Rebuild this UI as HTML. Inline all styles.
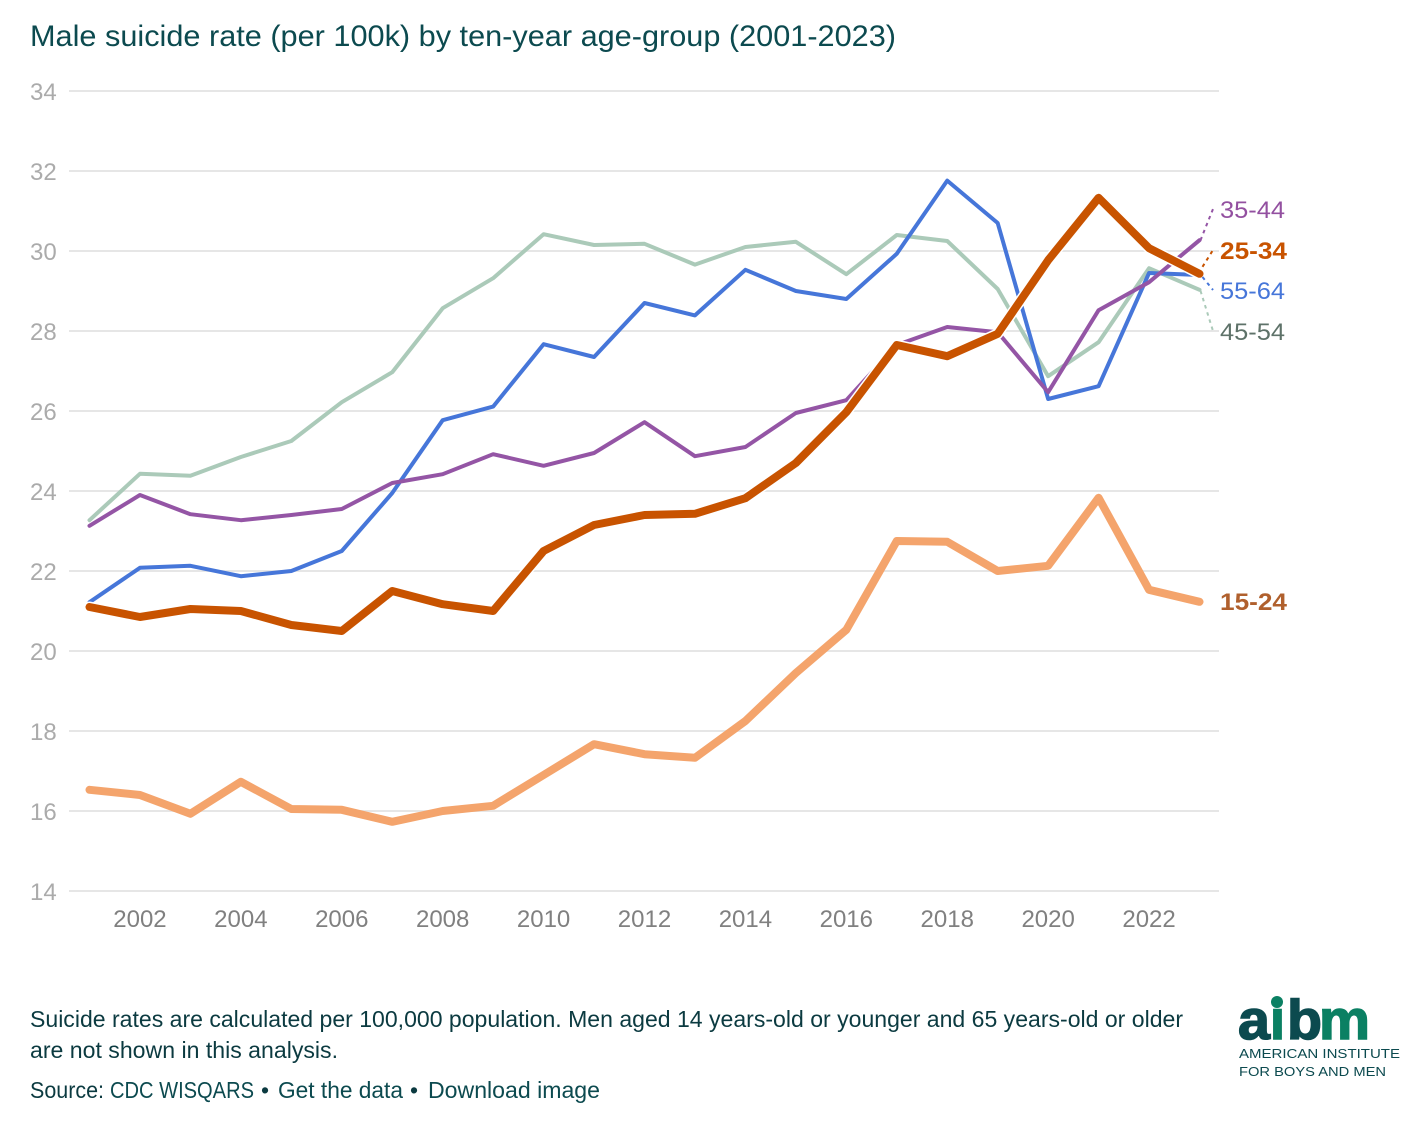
<!DOCTYPE html>
<html lang="en">
<head>
<meta charset="utf-8">
<title>Male suicide rate by ten-year age-group</title>
<style>
html,body{margin:0;padding:0;background:#fff;}
svg{display:block;font-family:"Liberation Sans",Arial,sans-serif;}
a,.link{cursor:pointer;}
</style>
</head>
<body>
<svg id="chart" xmlns="http://www.w3.org/2000/svg" width="1420" height="1124" viewBox="0 0 1420 1124">
  <text x="30" y="46" font-size="30" fill="#0c4a4f" textLength="866" lengthAdjust="spacingAndGlyphs">Male suicide rate (per 100k) by ten-year age-group (2001-2023)</text>
  <g id="grid"></g>
  <g id="yticks"></g>
  <g id="xticks"></g>
  <g id="series"></g>
  <g id="labels"></g>

  <g font-size="23" fill="#0b3a40">
    <text x="30" y="1027" textLength="1153" lengthAdjust="spacingAndGlyphs">Suicide rates are calculated per 100,000 population. Men aged 14 years-old or younger and 65 years-old or older</text>
    <text x="30" y="1058" textLength="308" lengthAdjust="spacingAndGlyphs">are not shown in this analysis.</text>
  </g>
  <g font-size="23">
    <text x="30" y="1098" fill="#0b3a40" textLength="74" lengthAdjust="spacingAndGlyphs">Source:</text>
    <text class="link" x="110" y="1098" fill="#0c4a4f" textLength="144" lengthAdjust="spacingAndGlyphs">CDC WISQARS</text>
    <text x="261" y="1098" fill="#0b3a40">•</text>
    <text class="link" x="278" y="1098" fill="#0c4a4f" textLength="125" lengthAdjust="spacingAndGlyphs">Get the data</text>
    <text x="410" y="1098" fill="#0b3a40">•</text>
    <text class="link" x="428" y="1098" fill="#0c4a4f" textLength="172" lengthAdjust="spacingAndGlyphs">Download image</text>
  </g>

  <g font-weight="700">
    <text x="1238" y="1039" font-size="56" fill="#0c4a4f" stroke="#0c4a4f" stroke-width="1.5" textLength="32" lengthAdjust="spacingAndGlyphs">a</text>
    <text x="1270" y="1039" font-size="56" fill="#0b8063" stroke="#0b8063" stroke-width="1.5" textLength="15" lengthAdjust="spacingAndGlyphs">i</text>
    <rect x="1268" y="990" width="20" height="17" fill="#fff"/>
    <circle cx="1277" cy="1002" r="6" fill="#0b8063"/>
    <text x="1287" y="1039" font-size="56" fill="#0c4a4f" stroke="#0c4a4f" stroke-width="1.5" textLength="35" lengthAdjust="spacingAndGlyphs">b</text>
    <text x="1319" y="1039" font-size="56" fill="#0b8063" stroke="#0b8063" stroke-width="1.5" textLength="51" lengthAdjust="spacingAndGlyphs">m</text>
    <text x="1239" y="1058" font-size="13" font-weight="400" fill="#0c4a4f" textLength="161" lengthAdjust="spacingAndGlyphs">AMERICAN INSTITUTE</text>
    <text x="1239" y="1076" font-size="13" font-weight="400" fill="#0c4a4f" textLength="147" lengthAdjust="spacingAndGlyphs">FOR BOYS AND MEN</text>
  </g>
</svg>
<script>
const years = [2001,2002,2003,2004,2005,2006,2007,2008,2009,2010,2011,2012,2013,2014,2015,2016,2017,2018,2019,2020,2021,2022,2023];
const yTickValues = [14,16,18,20,22,24,26,28,30,32,34];
const xTickValues = [2002,2004,2006,2008,2010,2012,2014,2016,2018,2020,2022];
const age45to54 = [23.27,24.43,24.38,24.85,25.25,26.22,26.97,28.57,29.32,30.42,30.15,30.18,29.66,30.10,30.23,29.42,30.40,30.25,29.05,26.87,27.72,29.57,29.03];
const age55to64 = [21.22,22.08,22.13,21.87,22.00,22.50,23.95,25.77,26.11,27.67,27.35,28.70,28.39,29.53,29.00,28.80,29.93,31.76,30.70,26.30,26.62,29.45,29.40];
const age35to44 = [23.13,23.90,23.42,23.27,23.40,23.55,24.20,24.42,24.92,24.63,24.95,25.72,24.87,25.10,25.95,26.27,27.65,28.10,27.97,26.47,28.52,29.22,30.27];
const age15to24 = [16.53,16.40,15.93,16.73,16.05,16.03,15.73,16.00,16.13,16.90,17.67,17.42,17.33,18.25,19.45,20.53,22.75,22.73,22.00,22.13,23.83,21.53,21.23];
const age25to34 = [21.10,20.85,21.05,21.00,20.65,20.50,21.50,21.17,21.00,22.50,23.15,23.40,23.43,23.82,24.70,25.97,27.65,27.37,27.93,29.77,31.33,30.07,29.43];

const SVGNS = 'http://www.w3.org/2000/svg';
function xScale(year){ return 89.5 + (year - 2001) * (1110 / 22); }
function yScale(v){ return 891 - (v - 14) * 40; }
function node(tag, parent){
  const el = document.createElementNS(SVGNS, tag);
  parent.appendChild(el);
  return el;
}
function pointsFor(values){
  return values.map(function(v, i){ return xScale(years[i]).toFixed(2) + ',' + yScale(v).toFixed(2); }).join(' ');
}

const gridG = document.getElementById('grid');
const yG = document.getElementById('yticks');
yTickValues.forEach(function(t){
  const line = node('line', gridG);
  
  
  line.setAttribute('x1', 69);
  line.setAttribute('x2', 1219);
  line.setAttribute('y1', yScale(t));
  line.setAttribute('y2', yScale(t));
  line.setAttribute('stroke', '#e6e6e6');
  line.setAttribute('stroke-width', 2);
  const label = node('text', yG);
  
  
  label.setAttribute('x', 30);
  label.setAttribute('y', yScale(t) + 9);
  label.setAttribute('font-size', 24);
  label.setAttribute('fill', '#ababab');
  label.textContent = t;
});

const xG = document.getElementById('xticks');
xTickValues.forEach(function(t){
  const label = node('text', xG);
  
  
  label.setAttribute('x', xScale(t));
  label.setAttribute('y', 927);
  label.setAttribute('font-size', 24);
  label.setAttribute('fill', '#808080');
  label.setAttribute('text-anchor', 'middle');
  label.textContent = t;
});

const seriesG = document.getElementById('series');
const labelsG = document.getElementById('labels');

function drawSeries(name, values, color, width, halo){
  if (halo) {
    const under = node('polyline', seriesG);
    
    
    under.setAttribute('points', pointsFor(values));
    under.setAttribute('fill', 'none');
    under.setAttribute('stroke', '#fff');
    under.setAttribute('stroke-width', width + 3);
    under.setAttribute('stroke-linejoin', 'round');
    under.setAttribute('stroke-linecap', 'round');
  }
  const line = node('polyline', seriesG);
  
  
  line.setAttribute('points', pointsFor(values));
  line.setAttribute('fill', 'none');
  line.setAttribute('stroke', color);
  line.setAttribute('stroke-width', width);
  line.setAttribute('stroke-linejoin', 'round');
  line.setAttribute('stroke-linecap', 'round');
}
function drawLabel(name, values, textColor, leaderColor, labelY, bold, startOffsetX, startOffsetY){
  const last = values[values.length - 1];
  if (leaderColor) {
    const lead = node('line', labelsG);
    
    
    lead.setAttribute('x1', xScale(2023) + startOffsetX);
    lead.setAttribute('y1', yScale(last) + startOffsetY);
    lead.setAttribute('x2', 1213);
    lead.setAttribute('y2', labelY - 9);
    lead.setAttribute('stroke', leaderColor);
    lead.setAttribute('stroke-width', 2);
    lead.setAttribute('stroke-dasharray', '3.5 4');
  }
  const t = node('text', labelsG);
  
  
  t.setAttribute('x', 1220);
  t.setAttribute('y', labelY);
  t.setAttribute('font-size', 24);
  t.setAttribute('font-weight', bold ? 700 : 400);
  t.setAttribute('fill', textColor);
  t.setAttribute('textLength', bold ? 67 : 65);
  t.setAttribute('lengthAdjust', 'spacingAndGlyphs');
  t.textContent = name;
}

drawSeries('45-54', age45to54, '#abcab9', 4, false);
drawSeries('55-64', age55to64, '#4676d9', 4, false);
drawSeries('35-44', age35to44, '#9455a5', 4, false);
drawSeries('15-24', age15to24, '#f4a46c', 8, false);
drawSeries('25-34', age25to34, '#c85300', 8, true);

drawLabel('35-44', age35to44, '#9350a0', '#9455a5', 218, false, 1, 0);
drawLabel('25-34', age25to34, '#c85300', '#c85300', 259, true, 3, -7);
drawLabel('55-64', age55to64, '#4676d9', '#4676d9', 299, false, 3, 2);
drawLabel('45-54', age45to54, '#5e7269', '#abcab9', 340, false, 1, 1);
drawLabel('15-24', age15to24, '#b0602d', null, 610, true, 0, 0);
</script>
</body>
</html>
